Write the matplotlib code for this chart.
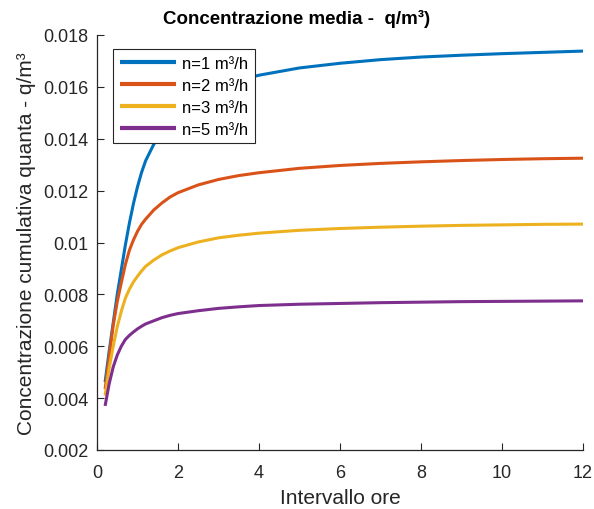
import matplotlib
matplotlib.use('Agg')
import matplotlib.pyplot as plt
from matplotlib.ticker import FuncFormatter

plt.rcParams['font.family'] = ['Liberation Sans', 'DejaVu Sans']

# hours
ore = [0.2, 0.3, 0.4, 0.5, 0.6, 0.7, 0.8, 0.9, 1.0, 1.1, 1.2,
       1.4, 1.6, 1.8, 2.0, 2.5, 3.0, 3.5, 4.0, 5.0, 6.0, 7.0, 8.0,
       9.0, 10.0, 11.0, 12.0]

# cumulative concentration (quanta/m3)
c_n1 = [0.00462, 0.00580, 0.00690, 0.00800, 0.00895, 0.00990, 0.01075, 0.01150,
        0.01215, 0.01270, 0.01315, 0.01378, 0.01425, 0.01465, 0.01497, 0.01560,
        0.01599, 0.01625, 0.01645, 0.01673, 0.01691, 0.01705, 0.01715, 0.01722,
        0.01728, 0.01733, 0.01738]
c_n2 = [0.00435, 0.00560, 0.00680, 0.00772, 0.00845, 0.00915, 0.00970, 0.01010,
        0.01043, 0.01070, 0.01090, 0.01125, 0.01152, 0.01175, 0.01192, 0.01222,
        0.01243, 0.01258, 0.01269, 0.01286, 0.01297, 0.01305, 0.01311, 0.01316,
        0.01320, 0.01323, 0.01325]
c_n3 = [0.00410, 0.00515, 0.00600, 0.00675, 0.00735, 0.00785, 0.00820, 0.00848,
        0.00870, 0.00890, 0.00908, 0.00932, 0.00952, 0.00967, 0.00980, 0.01002,
        0.01018, 0.01028, 0.01036, 0.01047, 0.01054, 0.01059, 0.01063, 0.01066,
        0.01068, 0.01070, 0.01071]
c_n5 = [0.00370, 0.00455, 0.00520, 0.00566, 0.00600, 0.00626, 0.00642, 0.00655,
        0.00667, 0.00677, 0.00686, 0.00698, 0.00710, 0.00719, 0.00726, 0.00737,
        0.00746, 0.00752, 0.00757, 0.00762, 0.00765, 0.00768, 0.00770, 0.00772,
        0.00773, 0.00774, 0.00775]

serie = [
    ('n=1 m³/h', c_n1, '#0072BD'),
    ('n=2 m³/h', c_n2, '#D95319'),
    ('n=3 m³/h', c_n3, '#EDB120'),
    ('n=5 m³/h', c_n5, '#7E2F8E'),
]

fig = plt.figure(figsize=(5.94, 5.10), dpi=100)
ax = fig.add_axes([97 / 594, 1 - 451 / 510, 486 / 594, 415 / 510])

for label, vals, col in serie:
    ax.plot(ore, vals, color=col, lw=2.2, label=label,
            solid_joinstyle='round', solid_capstyle='butt')

ax.set_xlim(0, 12)
ax.set_ylim(0.002, 0.018)
ax.set_xticks(range(0, 13, 2))
ax.set_yticks([0.002 * i for i in range(1, 10)])
ax.yaxis.set_major_formatter(FuncFormatter(lambda v, p: '%g' % round(v, 4)))

dark = '#262626'
for s in ['top', 'right']:
    ax.spines[s].set_visible(False)
for s in ['left', 'bottom']:
    ax.spines[s].set_color(dark)
    ax.spines[s].set_linewidth(0.9)
ax.tick_params(direction='in', length=5, width=0.8, colors=dark, labelsize=13)
ax.tick_params(axis='x', pad=10)
ax.tick_params(axis='y', pad=6)

ax.set_xlabel('Intervallo ore', fontsize=15, color=dark, labelpad=5)
ax.set_ylabel('Concentrazione cumulativa quanta - q/m³', fontsize=15, color=dark, labelpad=5)
fig.text(0.5, 1 - 19 / 510, 'Concentrazione media -  q/m³)', fontsize=13.5,
         fontweight='bold', ha='center', va='center')

leg = ax.legend(loc='upper left', bbox_to_anchor=(0.033, 0.966), fontsize=12,
                handlelength=3.4, handletextpad=0.35, labelspacing=0.42,
                borderpad=0.4, borderaxespad=0, fancybox=False, framealpha=1)
leg.get_frame().set_edgecolor(dark)
leg.get_frame().set_linewidth(0.8)
for ln in leg.get_lines():
    ln.set_linewidth(3)

fig.savefig('out.png', dpi=100)
